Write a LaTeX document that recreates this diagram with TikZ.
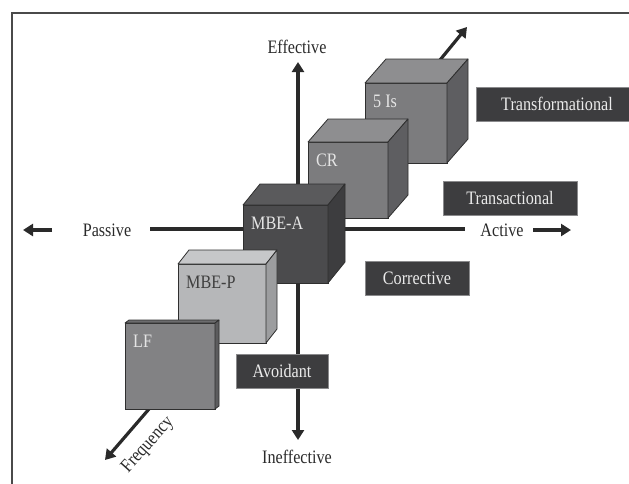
\documentclass[tikz,border=0pt]{standalone}
\usepackage{fontspec}
\setmainfont{Liberation Serif}[FakeStretch=0.85]
\usetikzlibrary{arrows.meta}
\definecolor{edgec}{HTML}{2F2F2F}
\definecolor{inkc}{HTML}{2A2A2A}
\definecolor{tagfill}{HTML}{3D3D3F}
\definecolor{tagline}{HTML}{8A8A8C}
\definecolor{midF}{HTML}{7C7C7E}
\definecolor{midT}{HTML}{8E8E90}
\definecolor{midS}{HTML}{5E5E61}
\definecolor{darkF}{HTML}{4B4B4D}
\definecolor{darkT}{HTML}{5A5A5C}
\definecolor{darkS}{HTML}{3D3D3F}
\definecolor{lightF}{HTML}{B6B7B9}
\definecolor{lightT}{HTML}{C6C7C9}
\definecolor{lightS}{HTML}{9C9D9F}
\definecolor{lfF}{HTML}{828284}
\definecolor{lfT}{HTML}{6C6C6E}
\definecolor{lfS}{HTML}{5C5C5E}
\newcommand\mycube[9]{%
  \node[cubefront, fill=#8F, minimum width={(#4-#2)*1pt}, minimum height={(#5-#3)*1pt}, anchor=north west] (#1) at (#2,#3) {};
  \draw[cubeface, fill=#8T] (#1.north west) -- ++(#6,-#7) -- ([shift={(#6,-#7)}]#1.north east) -- (#1.north east) -- cycle;
  \draw[cubeface, fill=#8S] (#1.north east) -- ++(#6,-#7) -- ([shift={(#6,-#7)}]#1.south east) -- (#1.south east) -- cycle;
  \node[cubelabel, anchor=west] (#1-t) at ([xshift=8pt,yshift=-18pt]#1.north west) {#9};
}
\begin{document}
\begin{tikzpicture}[x=1pt,y=-1pt,
  cubefront/.style={draw=edgec, line width=0.8pt, inner sep=0pt, outer sep=0pt, rectangle},
  cubeface/.style={draw=edgec, line width=0.8pt, line join=round},
  cubelabel/.style={text=white!90!black, font=\fontsize{19}{21}\selectfont, inner sep=0pt},
  tagbox/.style={fill=tagfill, draw=tagline, line width=0.6pt, text=white!92!black, minimum height=34pt, inner sep=0pt, font=\fontsize{19}{21}\selectfont},
  axislabel/.style={text=inkc, font=\fontsize{19}{21}\selectfont, inner sep=0pt},
  axisline/.style={draw=inkc, line width=3.6pt},
  tip/.style={-{Triangle[width=12pt,length=10pt]}},
  framel/.style={draw=inkc!85, line width=1.4pt}
]
\useasboundingbox (0,0) rectangle (629,483);
\coordinate (fr1) at (632,13);
\coordinate (fr2) at (12,13);
\coordinate (fr3) at (12,486);
\draw[framel] (fr1) -- (fr2) -- (fr3);

% axes
\coordinate (vtop) at (298,62);
\coordinate (vbot) at (298,440);
\coordinate (hl) at (150,229);
\coordinate (hr) at (465,229);
\draw[axisline, {Triangle[width=12pt,length=10pt]}-{Triangle[width=12pt,length=10pt]}] (vbot) -- (vtop);
\draw[axisline] (hl) -- (hr);
\coordinate (la1) at (52,230);
\coordinate (la2) at (23,230);
\draw[axisline, tip] (la1) -- (la2);
\coordinate (ra1) at (533,230);
\coordinate (ra2) at (571,230);
\draw[axisline, tip] (ra1) -- (ra2);
\coordinate (fq1) at (149,409);
\coordinate (fq2) at (105,460);
\draw[axisline, line width=3.2pt, tip] (fq1) -- (fq2);
\coordinate (up1) at (440,60);
\coordinate (up2) at (467,27);
\draw[axisline, line width=3.2pt, tip] (up1) -- (up2);

\node[axislabel] (eff) at (297,47) {Effective};
\node[axislabel] (ineff) at (297,457) {Ineffective};
\node[axislabel] (pas) at (107,230) {Passive};
\node[axislabel] (act) at (502,230) {Active};
\node[axislabel, rotate=48] (freq) at (148,445) {Frequency};

% cubes, back to front
\mycube{fiveis}{365}{83}{447}{163}{21}{24}{mid}{5 Is}
\mycube{cr}{308}{142}{388}{218}{20}{23}{mid}{CR}
\mycube{mbea}{243}{205}{328}{283}{17}{21}{dark}{MBE-A}
\mycube{mbep}{178}{264}{266}{343}{11}{14}{light}{\textcolor{inkc!90}{MBE-P}}
\mycube{lf}{125}{323}{215}{409}{4}{3}{lf}{LF}

% category tags
\node[tagbox, minimum width=156pt] (transf) at (554,104) {\hspace*{6pt}Transformational};
\node[tagbox, minimum width=134pt] (transa) at (510,198) {Transactional};
\node[tagbox, minimum width=104pt] (corr) at (417,278) {Corrective};
\node[tagbox, minimum width=92pt] (avoid) at (282,371) {Avoidant};
\end{tikzpicture}
\end{document}
